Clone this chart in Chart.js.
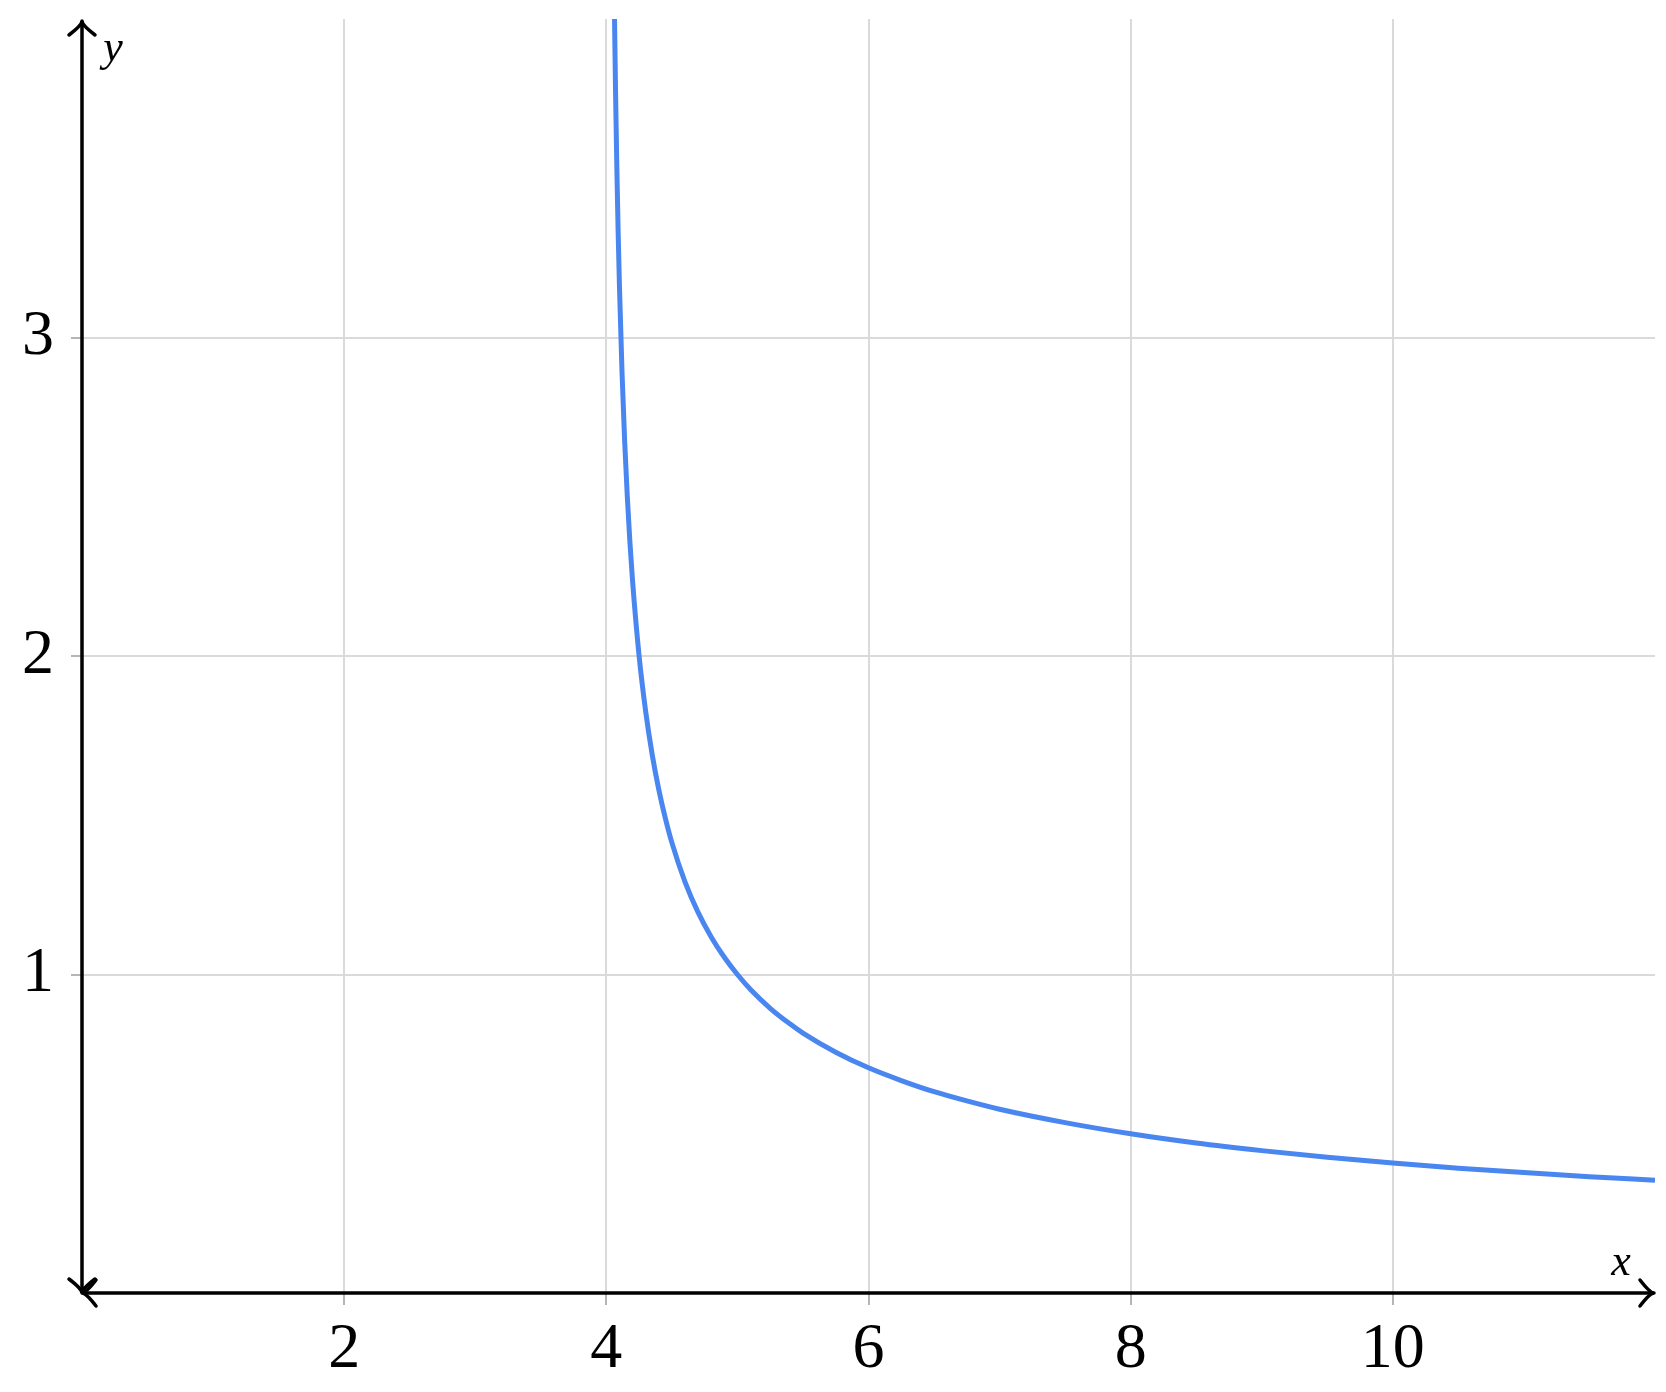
<!DOCTYPE html>
<html>
<head>
<meta charset="utf-8">
<script src="https://cdn.jsdelivr.net/npm/chart.js@4/dist/chart.umd.min.js"></script>
<style>
  html, body { margin: 0; padding: 0; background: #fff; }
  #wrap { width: 1666px; height: 1392px; }
</style>
</head>
<body>
<div id="wrap"><canvas id="plot" width="1666" height="1392"></canvas></div>
<script>
// values
const xValues = [4.0625, 4.07, 4.08, 4.09, 4.1, 4.12, 4.14, 4.16, 4.18, 4.2, 4.25, 4.3, 4.35, 4.4, 4.45, 4.5, 4.6, 4.7, 4.8, 4.9, 5, 5.1, 5.25, 5.4, 5.5, 5.75, 6, 6.25, 6.5, 6.75, 7, 7.5, 8, 8.5, 9, 9.5, 10, 10.5, 11, 11.5, 12];
const yValues = [4.0, 3.78, 3.536, 3.333, 3.162, 2.887, 2.673, 2.5, 2.357, 2.236, 2.0, 1.826, 1.69, 1.581, 1.491, 1.414, 1.291, 1.195, 1.118, 1.054, 1.0, 0.953, 0.894, 0.845, 0.816, 0.756, 0.707, 0.667, 0.632, 0.603, 0.577, 0.535, 0.5, 0.471, 0.447, 0.426, 0.408, 0.392, 0.378, 0.365, 0.354];
const xTicks = [2, 4, 6, 8, 10];
const yTicks = [1, 2, 3];

const gridColor = '#dadada';
const labelFont = { family: "'Liberation Serif', 'DejaVu Serif', serif", size: 64 };

function chevron(ctx, x, y, dx, dy) {
    // open arrow head pointing in direction (dx, dy)
    let len = 14, half = 13;
    let px = -dy, py = dx;
    ctx.beginPath();
    ctx.moveTo(x - dx * len + px * half, y - dy * len + py * half);
    ctx.quadraticCurveTo(x - dx * 4, y - dy * 4, x, y);
    ctx.quadraticCurveTo(x - dx * 4, y - dy * 4, x - dx * len - px * half, y - dy * len - py * half);
    ctx.stroke();
}

const axesPlugin = {
    id: 'axesArrows',
    afterDatasetsDraw(chart) {
        let ctx = chart.ctx;
        let a = chart.chartArea;
        let x0 = chart.scales.x.getPixelForValue(0);
        let y0 = chart.scales.y.getPixelForValue(0);
        ctx.save();
        ctx.strokeStyle = '#000';
        ctx.lineWidth = 3.5;
        ctx.lineCap = 'round';
        ctx.beginPath();
        ctx.moveTo(x0, a.top + 2);
        ctx.lineTo(x0, y0);
        ctx.moveTo(x0, y0);
        ctx.lineTo(a.right - 1, y0);
        ctx.stroke();
        chevron(ctx, x0, a.top + 2, 0, -1);
        chevron(ctx, x0, y0, 0, 1);
        chevron(ctx, x0, y0, -1, 0);
        chevron(ctx, a.right - 1, y0, 1, 0);

        ctx.fillStyle = '#000';
        ctx.font = "italic 44px 'Liberation Serif', 'DejaVu Serif', serif";
        ctx.textAlign = 'center';
        ctx.textBaseline = 'middle';
        ctx.fillText('y', x0 + 31, a.top + 30);
        ctx.fillText('x', a.right - 34, y0 - 30);
        ctx.restore();
    }
};

new Chart(document.getElementById('plot'), {
    type: 'scatter',
    data: {
        datasets: [{
            data: xValues.map((x, i) => ({ x: x, y: yValues[i] })),
            showLine: true,
            borderColor: '#4a86f0',
            borderWidth: 5,
            pointRadius: 0,
            cubicInterpolationMode: 'monotone',
            fill: false
        }]
    },
    options: {
        responsive: false,
        animation: false,
        layout: { padding: { top: 19, right: 11, left: 0, bottom: 0 } },
        scales: {
            x: {
                type: 'linear',
                min: 0,
                max: 12,
                afterBuildTicks: (axis) => { axis.ticks = xTicks.map(v => ({ value: v })); },
                afterFit: (axis) => {
                    axis.height = 99;
                    axis.paddingLeft = 0;
                    axis.paddingRight = 0;
                },
                grid: {
                    color: gridColor,
                    lineWidth: 2,
                    drawTicks: true,
                    tickLength: 12,
                    tickColor: '#b5b5b5'
                },
                border: { display: false },
                ticks: {
                    color: '#000',
                    font: labelFont,
                    padding: 7,
                    maxRotation: 0
                }
            },
            y: {
                type: 'linear',
                min: 0,
                max: 4,
                afterBuildTicks: (axis) => { axis.ticks = yTicks.map(v => ({ value: v })); },
                afterFit: (axis) => {
                    axis.width = 82;
                    axis.paddingTop = 0;
                    axis.paddingBottom = 0;
                },
                grid: {
                    color: gridColor,
                    lineWidth: 2,
                    drawTicks: true,
                    tickLength: 11,
                    tickColor: '#b5b5b5'
                },
                border: { display: false },
                ticks: {
                    color: '#000',
                    font: labelFont,
                    padding: 17
                }
            }
        },
        plugins: {
            legend: { display: false },
            tooltip: { enabled: false }
        }
    },
    plugins: [axesPlugin]
});
</script>
</body>
</html>
